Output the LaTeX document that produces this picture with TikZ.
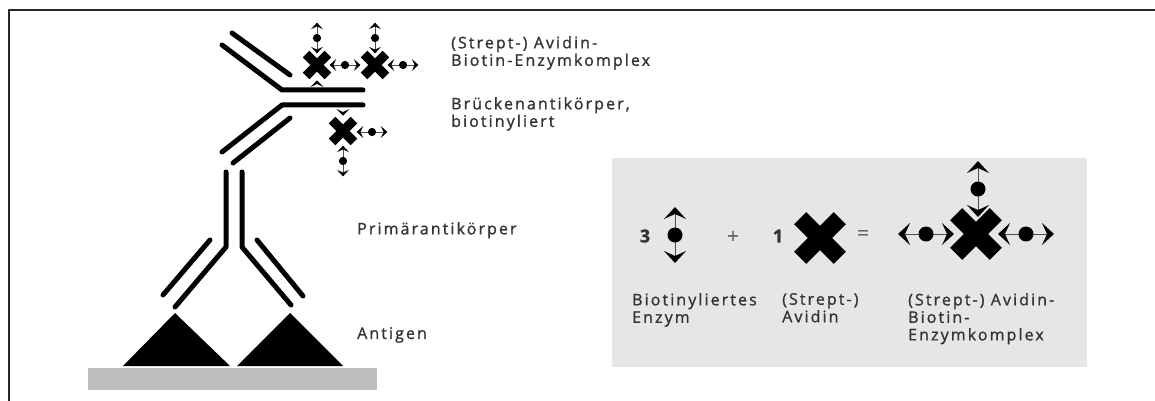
\documentclass[tikz,border=0pt]{standalone}
\usepackage{fontspec}
\setmainfont{Open Sans}[LetterSpace=13, FakeBold=1.2]
\usepackage{tikz}
\usepackage{xcolor}
\usetikzlibrary{positioning}

\definecolor{textgrau}{HTML}{333333}
\definecolor{boxgrau}{HTML}{E6E6E6}
\definecolor{traeger}{HTML}{BDBDBD}

\tikzset{
  kette/.style={line width=5pt, line cap=round, black},
  etikett/.style={inner sep=0pt, anchor=north west, align=left, textgrau,
    font=\fontsize{16}{17.5}\selectfont},
  % biotinyliertes Enzym: Punkt mit zwei Haken
  biotin/.pic={
    \draw[line width=0.8pt, black!70] (0,-22) -- (0,22);
    \fill (0,0) circle[radius=7.5];
    \fill (0,-28) -- (11,-16) -- (0,-21) -- (-11,-16) -- cycle;
    \fill (0,28) -- (11,16) -- (0,21) -- (-11,16) -- cycle;
  },
  % (Strept-) Avidin als Kreuz
  avidin/.pic={
    \fill[rotate=45] (-28,-8.5) rectangle (28,8.5);
    \fill[rotate=-45] (-28,-8.5) rectangle (28,8.5);
  },
  % einzelner Biotinhaken am Antikoerper
  haken/.pic={
    \fill (0,-6) -- (11,5) -- (0,0) -- (-11,5) -- cycle;
  }
}

\begin{document}
\begin{tikzpicture}[x=1pt, y=-1pt, line join=round]
    \useasboundingbox (0,0) rectangle (1155,401);
    % Rahmen
    \draw[line width=2.5pt, black!85] (9,410) -- (9,10) -- (1160,10);
    % Traeger mit Antigen
    \fill[traeger] (88,368) rectangle (377,390);
    \coordinate (A1) at (175,313);
    \coordinate (A2) at (290,313);
    \fill (123,366) -- (A1) -- (230,366) -- cycle;
    \fill (237,366) -- (A2) -- (343,366) -- cycle;
    % Primaerantikoerper
    \coordinate (P1) at (226,247);
    \coordinate (P2) at (242,247);
    \draw[kette] (226,172) -- (P1) -- (175,307);
    \draw[kette] (242,172) -- (P2) -- (291,305);
    \draw[kette] (210,240) -- (163,295);
    \draw[kette] (257,240) -- (303,296);
    % Brueckenantikoerper
    \coordinate (B1) at (282,90);
    \coordinate (B2) at (282,105);
    \draw[kette] (222,45) -- (B1) -- (363,90);
    \draw[kette] (222,152) -- (B2) -- (363,105);
    \draw[kette] (232,33) -- (290,75);
    \draw[kette] (233,163) -- (290,118);
    % gebundene Komplexe
    \pic[scale=0.55] at (317,65) {avidin};
    \pic[scale=0.55] at (375,65) {avidin};
    \pic[scale=0.55] at (343,131) {avidin};
    \pic[scale=0.55] at (317,38) {biotin};
    \pic[scale=0.55, rotate=90] at (345,65) {biotin};
    \pic[scale=0.55] at (375,38) {biotin};
    \pic[scale=0.55, rotate=90] at (403,65) {biotin};
    \pic[scale=0.55, rotate=90] at (372,132) {biotin};
    \pic[scale=0.55] at (343,161) {biotin};
    \pic[scale=0.6] at (317,84) {haken};
    \pic[scale=0.6, rotate=180] at (343,112) {haken};
    % Beschriftungen links
    \node[etikett] (abc) at (451,36) {(Strept-) Avidin-\\Biotin-Enzymkomplex};
    \node[etikett] (bruecke) at (451,97) {Brückenantikörper,\\biotinyliert};
    \node[etikett] (primaer) at (357,222) {Primärantikörper};
    \node[etikett] (antigen) at (357,327) {Antigen};
    % Kasten: Bildung des Komplexes
    \fill[boxgrau] (612,158) rectangle (1087,367);
    \node[font=\fontsize{18}{18}\selectfont\bfseries, textgrau] (drei) at (645,236) {3};
    \pic at (675,235) {biotin};
    \node[font=\fontsize{20}{20}\selectfont, black!60] (plus) at (733,237) {+};
    \node[font=\fontsize{18}{18}\selectfont\bfseries, textgrau] (eins) at (778,236) {1};
    \pic at (820,238) {avidin};
    \node[font=\fontsize{20}{20}\selectfont, black!60] (gleich) at (863,235) {=};
    \pic at (976,234) {avidin};
    \pic at (978,189) {biotin};
    \pic[rotate=90] at (926,234) {biotin};
    \pic[rotate=90] at (1026,234) {biotin};
    \node[etikett] (enzym) at (632,293) {Biotinyliertes\\Enzym};
    \node[etikett] (strept) at (782,293) {(Strept-)\\Avidin};
    \node[etikett] (komplex) at (908,293) {(Strept-) Avidin-\\Biotin-\\Enzymkomplex};
\end{tikzpicture}
\end{document}
